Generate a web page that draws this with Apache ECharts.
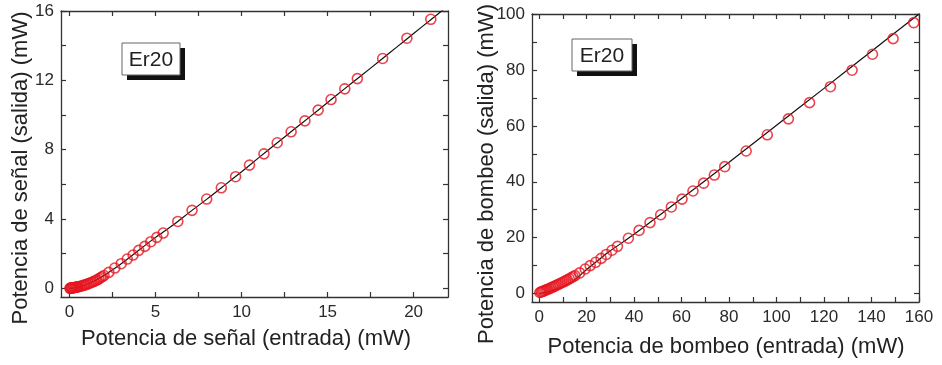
<!DOCTYPE html>
<html>
<head>
<meta charset="utf-8">
<script src="https://cdn.jsdelivr.net/npm/echarts@6/dist/echarts.min.js"></script>
<style>
  html, body { margin: 0; padding: 0; background: #fff; }
  #chart { width: 942px; height: 365px; }
</style>
</head>
<body>
<div id="chart"></div>
<script>
// señal (left panel)
const signalIn = [0.02, 0.05, 0.08, 0.12, 0.16, 0.2, 0.25, 0.3, 0.35, 0.4, 0.45, 0.5, 0.6, 0.7, 0.8, 0.9, 1.0, 1.1, 1.2, 1.3, 1.4, 1.5, 1.6, 1.7, 1.8, 1.9, 2.0,
  2.28, 2.63, 3.0, 3.35, 3.69, 4.02, 4.37, 4.72, 5.07, 5.44, 6.29, 7.12, 7.97, 8.82, 9.65, 10.46, 11.3, 12.07, 12.88, 13.68, 14.45, 15.2, 16.0, 16.73, 18.2, 19.61, 21.0];
const signalOut = [0.0, 0.01, 0.01, 0.02, 0.02, 0.03, 0.04, 0.05, 0.06, 0.07, 0.08, 0.09, 0.11, 0.14, 0.17, 0.2, 0.23, 0.27, 0.31, 0.35, 0.39, 0.44, 0.49, 0.55, 0.61, 0.67, 0.74,
  0.92, 1.17, 1.42, 1.69, 1.92, 2.19, 2.42, 2.69, 2.94, 3.19, 3.86, 4.5, 5.15, 5.8, 6.44, 7.11, 7.76, 8.4, 9.03, 9.66, 10.28, 10.89, 11.51, 12.1, 13.26, 14.43, 15.52];
const signalFitX = [0, 0.5, 1, 1.5, 2, 2.5, 3, 4, 5, 6, 7, 8, 9, 10, 11, 12, 13, 14, 15, 16, 17, 18, 19, 20, 21, 22];
const signalFitY = [0, 0.06, 0.22, 0.45, 0.74, 1.07, 1.42, 2.18, 2.94, 3.64, 4.41, 5.16, 5.94, 6.73, 7.54, 8.34, 9.13, 9.92, 10.72, 11.52, 12.31, 13.1, 13.9, 14.7, 15.5, 16.3];

// bombeo (right panel)
const pumpIn = [0.3, 0.8, 1.3, 1.8, 2.4, 3.0, 3.6, 4.3, 5.0, 5.7, 6.4, 7.1, 7.9, 8.7, 9.5, 10.3, 11.1, 11.9, 12.7, 13.5, 14.3, 15.1,
  17.1, 19.4, 21.5, 23.8, 26.1, 28.3, 30.7, 33.0, 37.6, 42.1, 46.7, 51.2, 55.7, 60.2, 64.8, 69.3, 73.8, 78.2, 87.2, 96.1, 105.0, 113.9, 122.7, 131.8, 140.4, 149.1, 157.8];
const pumpOut = [0.4, 0.57, 0.74, 0.91, 1.12, 1.34, 1.55, 1.81, 2.08, 2.34, 2.62, 2.9, 3.22, 3.55, 3.89, 4.23, 4.58, 4.94, 5.3, 5.67, 6.04, 6.42,
  7.4, 8.8, 10.0, 11.2, 12.6, 14.0, 15.5, 16.9, 19.8, 22.6, 25.4, 28.2, 31.0, 33.8, 36.7, 39.5, 42.4, 45.4, 51.0, 56.8, 62.5, 68.3, 74.0, 79.9, 85.6, 91.2, 96.9];
const pumpFitX = [0, 5, 10, 15, 20, 25, 30, 40, 60, 80, 100, 120, 140, 160];
const pumpFitY = [0, 0.9, 2.5, 5.0, 8.6, 12.0, 15.3, 21.2, 34.0, 47.0, 60.2, 73.4, 86.7, 100];

// ticks
const sigXLabels = [0, 5, 10, 15, 20];
const sigXTicks = [0, 2.5, 5, 7.5, 10, 12.5, 15, 17.5, 20];
const sigYLabels = [0, 4, 8, 12, 16];
const sigYTicks = [0, 2, 4, 6, 8, 10, 12, 14, 16];
const pumpXLabels = [0, 20, 40, 60, 80, 100, 120, 140, 160];
const pumpXTicks = [0, 10, 20, 30, 40, 50, 60, 70, 80, 90, 100, 110, 120, 130, 140, 150, 160];
const pumpYLabels = [0, 20, 40, 60, 80, 100];
const pumpYTicks = [0, 10, 20, 30, 40, 50, 60, 70, 80, 90, 100];

const axisColor = '#333';
const red = '#e6151f';
const font = 'Liberation Sans, Arial, sans-serif';

const zip = (xs, ys) => xs.map((x, i) => [x, ys[i]]);

const makeAxis = (grid, position, min, max, ticks, labels) => ({
  type: 'value',
  gridIndex: grid,
  position: position,
  min: min,
  max: max,
  axisLine: { show: true, onZero: false, lineStyle: { color: axisColor, width: 1.3 } },
  axisTick: { show: true, inside: true, length: 5, customValues: ticks, lineStyle: { color: axisColor, width: 1.2 } },
  axisLabel: labels
    ? { show: true, customValues: labels, fontSize: 17, color: '#2a2a2a', fontFamily: font, margin: 7 }
    : { show: false },
  splitLine: { show: false }
});

const scatter = (xi, yi, data) => ({
  type: 'scatter',
  xAxisIndex: xi,
  yAxisIndex: yi,
  data: data,
  symbol: 'circle',
  symbolSize: 10,
  itemStyle: { color: 'rgba(0,0,0,0)', borderColor: red, borderWidth: 1.6 },
  z: 3
});

const fit = (xi, yi, data) => ({
  type: 'line',
  xAxisIndex: xi,
  yAxisIndex: yi,
  data: data,
  showSymbol: false,
  smooth: 0.3,
  clip: true,
  lineStyle: { color: '#111', width: 1.2 },
  z: 2
});

const label = (x, y, w, h) => ({
  type: 'group',
  children: [
    { type: 'rect', shape: { x: x + 5, y: y + 5, width: w, height: h }, style: { fill: '#111' } },
    { type: 'rect', shape: { x: x, y: y, width: w, height: h }, style: { fill: '#fff', stroke: '#666', lineWidth: 1 } },
    { type: 'text', x: x + w / 2, y: y + h / 2 + 1, style: { text: 'Er20', fontSize: 21, fontFamily: font, fill: '#222', align: 'center', verticalAlign: 'middle' } }
  ]
});

const title = (text, x, y, rotate) => ({
  type: 'text',
  x: x,
  y: y,
  rotation: rotate ? Math.PI / 2 : 0,
  style: { text: text, fontSize: 22, fontFamily: font, fill: '#222', align: 'center', verticalAlign: 'middle' }
});

const chart = echarts.init(document.getElementById('chart'));
chart.setOption({
  animation: false,
  backgroundColor: '#fff',
  grid: [
    { left: 61, top: 11, width: 387, height: 286 },
    { left: 532, top: 14, width: 387, height: 288 }
  ],
  xAxis: [
    makeAxis(0, 'bottom', -0.5, 22, sigXTicks, sigXLabels),
    makeAxis(0, 'top', -0.5, 22, sigXTicks, null),
    makeAxis(1, 'bottom', -3, 160, pumpXTicks, pumpXLabels),
    makeAxis(1, 'top', -3, 160, pumpXTicks, null)
  ],
  yAxis: [
    makeAxis(0, 'left', -0.5, 16, sigYTicks, sigYLabels),
    makeAxis(0, 'right', -0.5, 16, sigYTicks, null),
    makeAxis(1, 'left', -3, 100, pumpYTicks, pumpYLabels),
    makeAxis(1, 'right', -3, 100, pumpYTicks, null)
  ],
  series: [
    fit(0, 0, zip(signalFitX, signalFitY)),
    scatter(0, 0, zip(signalIn, signalOut)),
    fit(2, 2, zip(pumpFitX, pumpFitY)),
    scatter(2, 2, zip(pumpIn, pumpOut))
  ],
  graphic: [
    label(122, 43, 58, 32),
    label(572, 39, 60, 32),
    title('Potencia de señal (entrada) (mW)', 246, 339, false),
    title('Potencia de señal (salida) (mW)', 21, 168, true),
    title('Potencia de bombeo (entrada) (mW)', 726, 347, false),
    title('Potencia de bombeo (salida) (mW)', 487, 174, true)
  ]
});
</script>
</body>
</html>
